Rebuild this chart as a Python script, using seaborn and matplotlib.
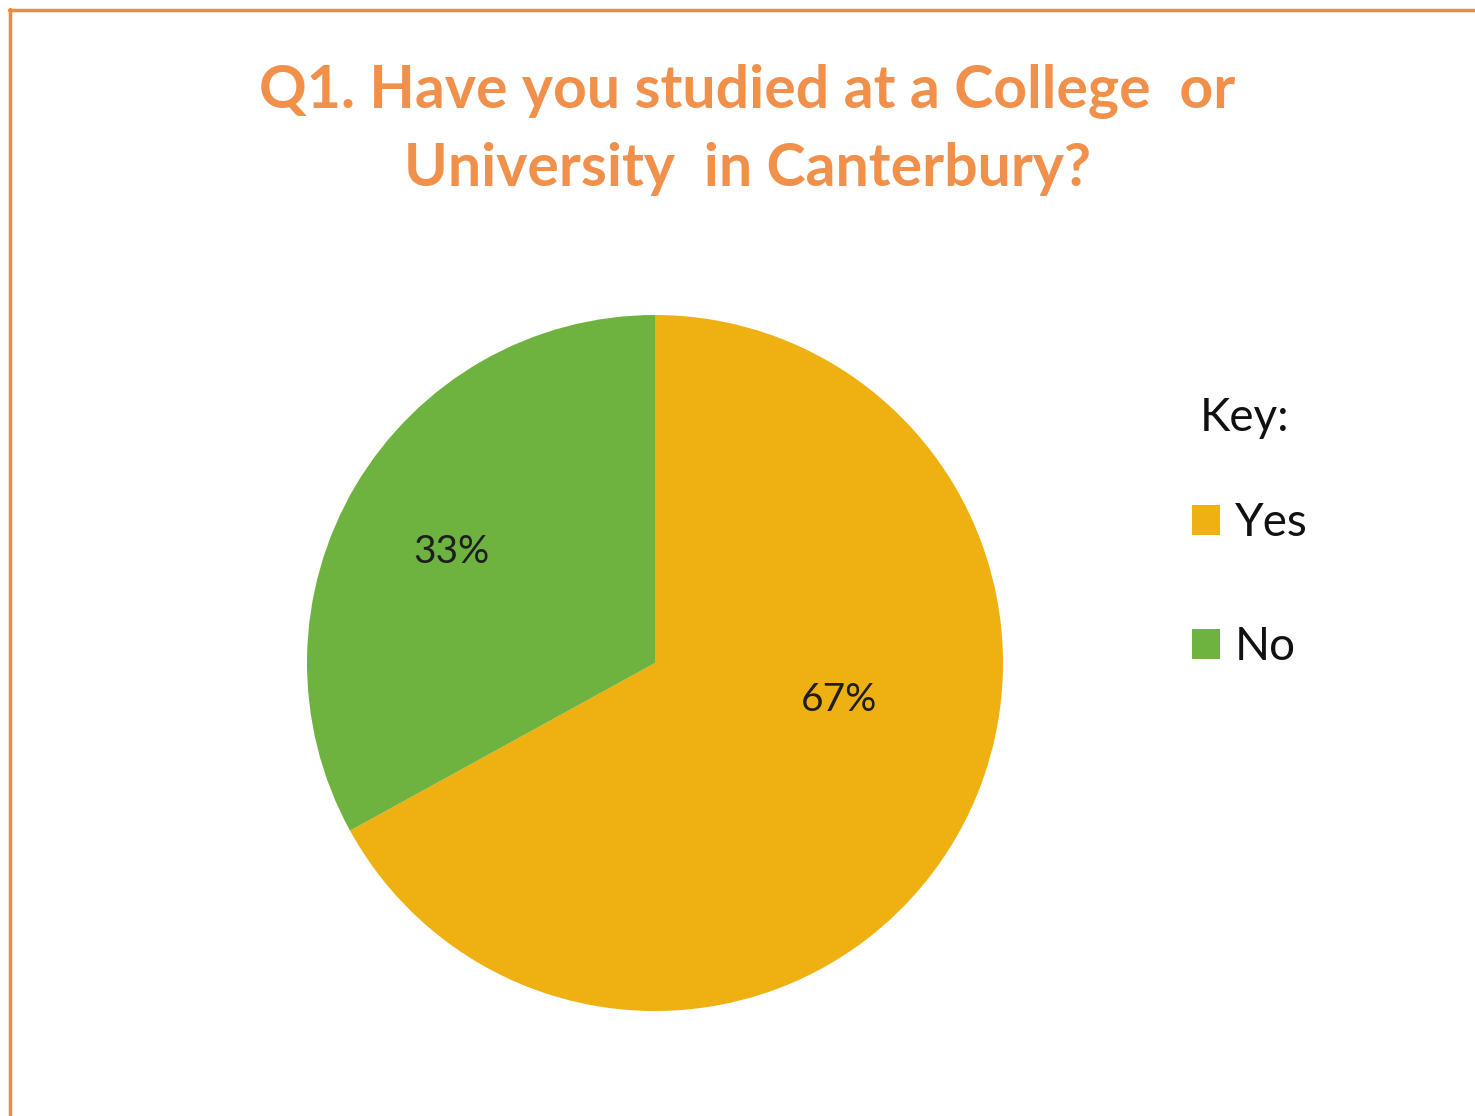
import matplotlib
matplotlib.use("Agg")
import matplotlib.pyplot as plt
import seaborn as sns
from matplotlib.patches import Patch
from matplotlib.lines import Line2D

sns.set_theme(style="white")
plt.rcParams['font.family'] = ['Lato', 'DejaVu Sans']

categories = ["Yes", "No"]
values = [67, 33]
colors = ["#EEB111", "#6EB23F"]
title_text = "Q1. Have you studied at a College  or\nUniversity  in Canterbury?"
legend_title = "Key:"

W, H = 1475, 1116
fig = plt.figure(figsize=(W / 100, H / 100), dpi=100)
fig.patch.set_facecolor("white")

# border lines (top and left)
border_color = "#F08A3C"
fig.add_artist(Line2D([9 / W, 1], [1 - 10 / H, 1 - 10 / H], color=border_color, lw=2.5, transform=fig.transFigure))
fig.add_artist(Line2D([10 / W, 10 / W], [0, 1 - 9 / H], color=border_color, lw=2.5, transform=fig.transFigure))

# title
fig.text(747 / W, 1 - 130 / H, title_text, ha="center", va="center", fontsize=42.5,
         fontweight="bold", color="#F0904A", linespacing=1.52)

# pie axes
cx, cy, r = 655, 663, 348
ax = fig.add_axes([(cx - r) / W, (H - cy - r) / H, 2 * r / W, 2 * r / H])
wedges, texts, autotexts = ax.pie(values, colors=colors, startangle=90, counterclock=False,
                                  autopct="%1.0f%%", pctdistance=0.67,
                                  textprops=dict(fontsize=28, color="#1E1E1E"),
                                  wedgeprops=dict(linewidth=0))
ax.set_xlim(-1, 1)
ax.set_ylim(-1, 1)
ax.set_aspect("equal")
# adjust label placement (Excel-like)
autotexts[0].set_position((0.53, -0.105))
autotexts[1].set_position((-0.585, 0.32))
for t in texts:
    t.set_text("")

# legend key
fig.text(1200 / W, 1 - 418 / H, legend_title, ha="left", va="center", fontsize=33, color="#111111")
handles = [Patch(facecolor=c, edgecolor="none") for c in colors]
leg = fig.legend(handles, categories, loc="upper left",
                 bbox_to_anchor=(1192 / W, 1 - 502 / H), frameon=False, borderpad=0, borderaxespad=0,
                 fontsize=33, handlelength=0.61, handleheight=0.61,
                 handletextpad=0.33, labelspacing=1.79)
for t in leg.get_texts():
    t.set_color("#111111")

fig.savefig("out.png", dpi=100, facecolor="white")
